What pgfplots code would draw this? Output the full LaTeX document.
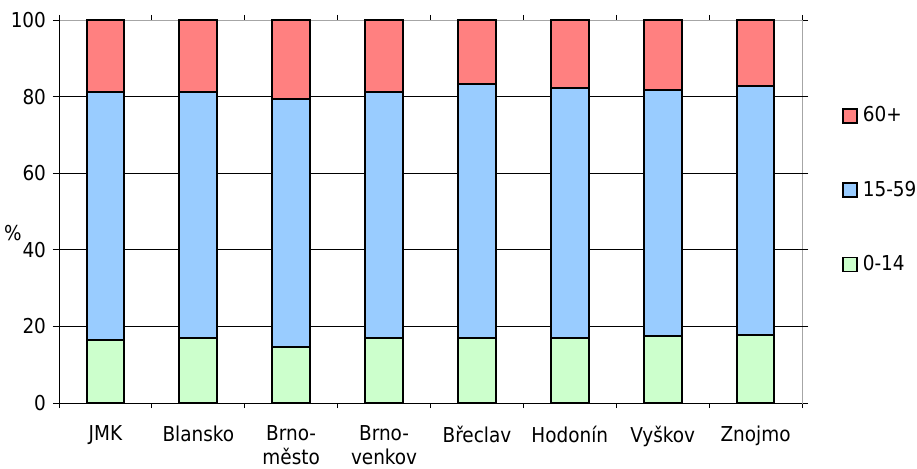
\documentclass[border=0pt]{standalone}
\usepackage{fontspec}
\setmainfont{DejaVu Sans Condensed}
\usepackage{pgfplots}
\usepackage{pgfplotstable}
\pgfplotsset{compat=1.18}

\definecolor{old}{HTML}{FF8080}
\definecolor{mid}{HTML}{99CCFF}
\definecolor{young}{HTML}{CCFFCC}

% age structure by district, %
\pgfplotstableread{
x young mid old
1 16.4 64.7 18.9
2 16.9 64.2 18.9
3 14.7 64.8 20.5
4 16.9 64.2 18.9
5 16.9 66.3 16.8
6 16.9 65.3 17.8
7 17.4 64.2 18.4
8 17.8 64.9 17.3
}\agedata

\begin{document}
\fontsize{20.5bp}{24bp}\selectfont
\begin{tikzpicture}
\begin{axis}[name=ax,
  scale only axis, width=743bp, height=383bp,
  ybar stacked, bar width=37.7bp,
  xmin=0.5, xmax=8.5, ymin=0, ymax=100,
  xtick={1,...,8},
  xticklabels={JMK, Blansko, Brno-\\město, Brno-\\venkov, Břeclav, Hodonín, Vyškov, Znojmo},
  xticklabel style={align=center, anchor=north, yshift=-10bp},
  minor xtick={0.5,1.5,...,8.5},
  major x tick style={draw=none},
  minor x tick style={black, line width=0.8bp},
  ytick={0,20,...,100},
  y tick style={black, line width=0.8bp},
  extra y ticks={20,40,60,80}, extra y tick labels={},
  extra y tick style={grid=major, major grid style={black, line width=0.8bp}},
  major tick length=6bp, minor tick length=5bp, tick align=outside,
  axis line style={gray!70, line width=0.8bp},
  /pgf/number format/assume math mode=true,
  ylabel={\%},
  ylabel style={rotate=-90, at={(rel axis cs:0,0.444)}, anchor=center, xshift=-46bp},
  reverse legend,
  legend style={draw=none, fill=none, at={(rel axis cs:1,0.556)}, anchor=west,
    xshift=40bp, row sep=52bp, inner sep=0pt,
    /tikz/every odd column/.append style={column sep=3bp}},
  legend cell align=left,
  legend image code/.code={\draw[#1, line width=1.6bp] (0bp,-7bp) rectangle (14bp,7bp);},
]
\addplot[fill=young, draw=black, line width=2bp] table[x=x, y=young] {\agedata};
\addlegendentry{0-14}
\addplot[fill=mid, draw=black, line width=2bp] table[x=x, y=mid] {\agedata};
\addlegendentry{15-59}
\addplot[fill=old, draw=black, line width=2bp] table[x=x, y=old] {\agedata};
\addlegendentry{60+}
\draw[black, line width=0.8bp] (rel axis cs:0,0) -- (rel axis cs:1,0);
\draw[black, line width=0.8bp] (rel axis cs:0,0) -- (rel axis cs:0,1);
\end{axis}
\pgfresetboundingbox
\path ([shift={(-59bp,-65bp)}]ax.south west) rectangle ([shift={(115bp,20bp)}]ax.north east);
\end{tikzpicture}
\end{document}
